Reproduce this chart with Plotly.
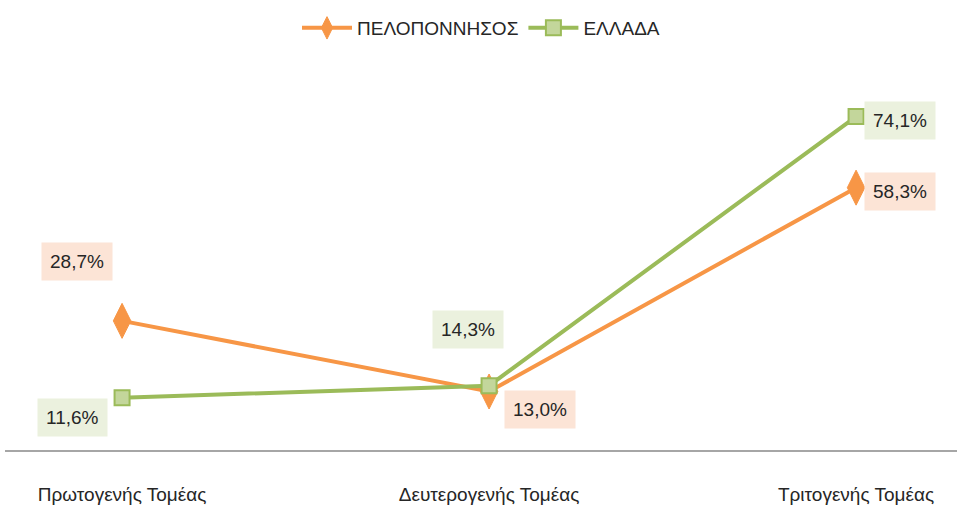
import plotly.graph_objects as go

categories = ["Πρωτογενής Τομέας", "Δευτερογενής Τομέας", "Τριτογενής Τομέας"]
peloponnisos = [28.7, 13.0, 58.3]
ellada = [11.6, 14.3, 74.1]
series_names = ["ΠΕΛΟΠΟΝΝΗΣΟΣ", "ΕΛΛΑΔΑ"]

FONT = "Liberation Sans Narrow, Arial Narrow, Liberation Sans, sans-serif"
ORANGE = "#F79646"
GREEN = "#9BBB59"

fig = go.Figure()
fig.add_trace(go.Scatter(
    x=categories, y=peloponnisos, name=series_names[0], mode="lines+markers",
    line=dict(color=ORANGE, width=4),
    marker=dict(symbol="diamond-tall", size=25, color=ORANGE, line=dict(color=ORANGE, width=1)),
))
fig.add_trace(go.Scatter(
    x=categories, y=ellada, name=series_names[1], mode="lines+markers",
    line=dict(color=GREEN, width=4),
    marker=dict(symbol="square", size=15, color="#C3D69B", line=dict(color=GREEN, width=2)),
))

def fmt(v):
    return f"{v:.1f}%".replace(".", ",")

# label offsets (pixels) for each point
p_off = [(-45, 59), (51, -18), (44, -4)]
e_off = [(-50, -20), (-21, 56), (44, -4)]
for i, c in enumerate(categories):
    fig.add_annotation(x=c, y=peloponnisos[i], text=fmt(peloponnisos[i]), showarrow=False,
                       xshift=p_off[i][0], yshift=p_off[i][1], bgcolor="#FCE4D6",
                       borderpad=8, font=dict(family=FONT, size=19, color="#262626"))
    fig.add_annotation(x=c, y=ellada[i], text=fmt(ellada[i]), showarrow=False,
                       xshift=e_off[i][0], yshift=e_off[i][1], bgcolor="#EBF1DE",
                       borderpad=8, font=dict(family=FONT, size=19, color="#262626"))

fig.update_layout(
    width=957, height=507,
    margin=dict(l=5, r=0, t=90, b=57),
    paper_bgcolor="white", plot_bgcolor="white",
    font=dict(family=FONT, size=19, color="#262626"),
    showlegend=True,
    legend=dict(orientation="h", x=0.5, xanchor="center", y=1 - 28 / 507, yref="container",
                yanchor="middle", font=dict(family=FONT, size=19, color="#262626"),
                itemwidth=50),
    xaxis=dict(type="category", range=[-0.319, 2.275], showgrid=False, showline=True,
               linecolor="#A6A6A6", linewidth=2, ticks="", tickfont=dict(size=19),
               ticklabelstandoff=26, zeroline=False, fixedrange=True),
    yaxis=dict(range=[0, 80], showgrid=False, showticklabels=False, zeroline=False,
               showline=False, fixedrange=True),
)

fig.write_html("out.html", config={"displayModeBar": False},
               post_script="document.body.style.margin='0';document.body.style.overflow='hidden';")
